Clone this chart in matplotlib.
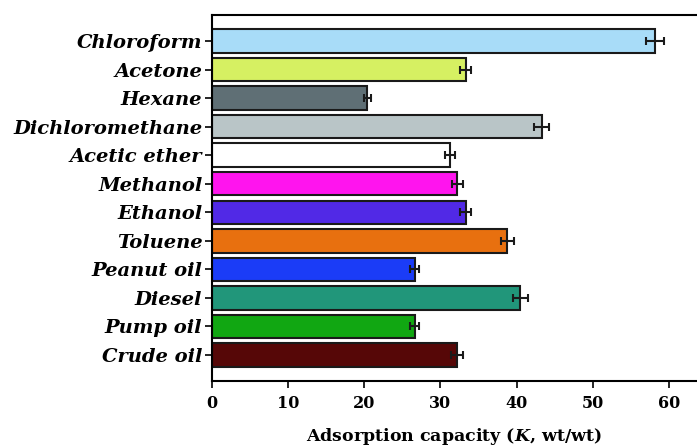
import matplotlib
matplotlib.use('Agg')
import matplotlib.pyplot as plt
import numpy as np

# data
solvents = ['Chloroform', 'Acetone', 'Hexane', 'Dichloromethane', 'Acetic ether',
            'Methanol', 'Ethanol', 'Toluene', 'Peanut oil', 'Diesel', 'Pump oil', 'Crude oil']
capacity = [58.2, 33.3, 20.4, 43.3, 31.2, 32.2, 33.3, 38.8, 26.6, 40.5, 26.6, 32.2]
errors = [1.15, 0.7, 0.5, 0.95, 0.65, 0.7, 0.7, 0.9, 0.6, 0.95, 0.6, 0.8]
colors = ['#a8dcf8', '#d6f062', '#5f6f75', '#b9c5c7', '#ffffff', '#ff14ee',
          '#5129e6', '#e8700f', '#1b3cf7', '#21967a', '#11a712', '#560707']
xticks = [0, 10, 20, 30, 40, 50, 60]

plt.rcParams['font.family'] = 'DejaVu Serif'
plt.rcParams['mathtext.fontset'] = 'custom'
plt.rcParams['mathtext.rm'] = 'DejaVu Serif:bold'
plt.rcParams['mathtext.it'] = 'DejaVu Serif:bold:italic'

fig = plt.figure(figsize=(6.97, 4.46), dpi=100)
ax = fig.add_axes([0.3042, 0.1457, 0.6958, 0.8207])

y = np.arange(len(solvents))
ax.barh(y, capacity, height=0.82, color=colors, edgecolor='#1a1a1a', linewidth=1.5,
        xerr=errors, error_kw=dict(ecolor='#1a1a1a', elinewidth=1.5, capsize=3, capthick=1.5))

ax.set_ylim(11.91, -0.91)
ax.set_xlim(0, 63.7)
ax.set_yticks(y)
ax.set_yticklabels(solvents, fontsize=14, fontweight='bold', style='italic')
ax.set_xticks(xticks)
ax.set_xticklabels([str(t) for t in xticks], fontsize=11.5, fontweight='bold')
ax.set_xlabel(r'Adsorption capacity ($\mathit{K}$, wt/wt)', fontsize=12.5, fontweight='bold', labelpad=10)

for s in ['left', 'bottom', 'top']:
    ax.spines[s].set_linewidth(1.5)
ax.spines['right'].set_visible(False)
ax.tick_params(axis='y', length=5, width=1.2, pad=2)
ax.tick_params(axis='x', length=5, width=1.2, pad=5)

fig.savefig('out.png', dpi=100)
